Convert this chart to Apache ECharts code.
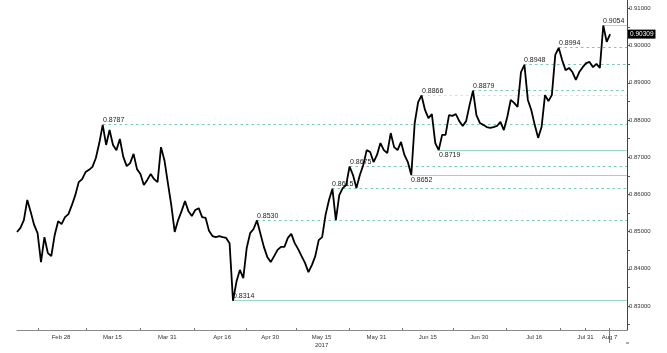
<!DOCTYPE html>
<html>
<head>
<meta charset="utf-8">
<script src="https://cdn.jsdelivr.net/npm/echarts@6/dist/echarts.min.js"></script>
<style>
html,body{margin:0;padding:0;background:#fff;}
#chart{width:667px;height:353px;}
</style>
</head>
<body>
<div id="chart"></div>
<script>
// ---- DATA ----
// first observation date and daily readings (EUR/GBP 2017)
var firstDate = [2017, 2, 15, 4]; // year, month(1-12), day, hour
var prices = [
0.8499,0.8510,0.8531,0.8585,0.8553,0.8518,0.8496,0.8418,0.8485,0.8442,
0.8434,0.8491,0.8528,0.8520,0.8539,0.8547,0.8571,0.8598,0.8633,0.8641,
0.8660,0.8666,0.8674,0.8698,0.8738,0.8787,0.8733,0.8773,0.8733,0.8719,
0.8749,0.8701,0.8676,0.8684,0.8709,0.8668,0.8655,0.8625,0.8639,0.8655,
0.8641,0.8633,0.8727,0.8692,0.8631,0.8571,0.8499,0.8531,0.8555,0.8582,
0.8555,0.8542,0.8558,0.8563,0.8539,0.8537,0.8502,0.8488,0.8485,0.8488,
0.8485,0.8483,0.8469,0.8314,0.8365,0.8397,0.8375,0.8456,0.8496,0.8507,
0.8530,0.8494,0.8459,0.8432,0.8418,0.8434,0.8451,0.8459,0.8459,0.8483,
0.8494,0.8469,0.8453,0.8434,0.8416,0.8391,0.8410,0.8434,0.8477,0.8485,
0.8545,0.8585,0.8615,0.8531,0.8598,0.8617,0.8625,0.8675,0.8652,0.8617,
0.8652,0.8679,0.8719,0.8714,0.8687,0.8706,0.8738,0.8719,0.8711,0.8765,
0.8727,0.8719,0.8741,0.8706,0.8687,0.8652,0.8792,0.8848,0.8866,0.8827,
0.8805,0.8816,0.8738,0.8719,0.8760,0.8760,0.8813,0.8811,0.8816,0.8797,
0.8784,0.8797,0.8840,0.8879,0.8813,0.8792,0.8787,0.8781,0.8779,0.8781,
0.8784,0.8795,0.8773,0.8808,0.8854,0.8846,0.8835,0.8929,0.8948,0.8854,
0.8827,0.8787,0.8752,0.8781,0.8867,0.8851,0.8867,0.8975,0.8994,0.8961,
0.8934,0.8940,0.8929,0.8908,0.8929,0.8942,0.8953,0.8956,0.8942,0.8951,
0.8940,0.9054,0.9010,0.90309
];
var lastPrice = 0.90309;

// x-axis tick labels and their dates
var xLabelDates = ['2017-02-28','2017-03-15','2017-03-31','2017-04-16','2017-04-30','2017-05-15',
                   '2017-05-31','2017-06-15','2017-06-30','2017-07-16','2017-07-31','2017-08-07'];
var xLabelTexts = ['Feb 28','Mar 15','Mar 31','Apr 16','Apr 30','May 15\n2017',
                   'May 31','Jun 15','Jun 30','Jul 16','Jul 31','Aug 7'];
var xTickDates  = ['2017-02-21 12','2017-03-07 12','2017-03-23 00','2017-04-08 00','2017-04-23 00',
                   '2017-05-07 12','2017-05-23 00','2017-06-07 12','2017-06-22 12','2017-07-08 00',
                   '2017-07-23 12','2017-07-31 00','2017-08-07 00'];
var xAxisRange = ['2017-02-15 04','2017-08-12 02'];

// y-axis labels / ticks
var yLabelValues = [0.83,0.84,0.85,0.86,0.87,0.88,0.89,0.90,0.91];
var yTickValues  = [0.825,0.83,0.835,0.84,0.845,0.85,0.855,0.86,0.865,0.87,0.875,0.88,0.885,0.89,0.895,0.90,0.905,0.91];
var yRange = [0.82355, 0.91226];

// annotated support / resistance levels
var levelValues   = [0.8787,0.8530,0.8314,0.8615,0.8675,0.8652,0.8866,0.8719,0.8879,0.8948,0.8994,0.9054];
var levelStartIdx = [25,    70,    63,    92,    97,    115,   118,   123,   133,   148,   158,   171];
var levelKind     = ['high','high','low','high','high','low','faint','low','high','high','high','peak'];
var levelLabelBelow=[false, false, false, false, false, true,  false, true,  false, false, false, false];

// ---- BUILD ----
function parseD(s){
  var p = s.split(/[- ]/);
  return new Date(+p[0], +p[1]-1, +p[2], p[3] ? +p[3] : 0, 0, 0).getTime();
}
var DAY = 86400000;
var t0 = new Date(firstDate[0], firstDate[1]-1, firstDate[2], firstDate[3], 0, 0).getTime();
var times = prices.map(function(_, i){ return t0 + i*DAY; });
var seriesData = prices.map(function(v, i){ return [times[i], v]; });
var labelTimes = xLabelDates.map(parseD);
var labelMap = {};
labelTimes.forEach(function(t, i){ labelMap[t] = xLabelTexts[i]; });
var xMin = parseD(xAxisRange[0]), xMax = parseD(xAxisRange[1]);
var levelData = levelValues.map(function(v, k){ return [times[levelStartIdx[k]], v, k]; });

var FONT = 'Liberation Sans';
var styles = {
  high:  {color:'#74cbb0', dash:[2.5,3]},
  peak:  {color:'#a6dccd', dash:null},
  low:   {color:'#9ad8c6', dash:null},
  faint: {color:'#d9e1df', dash:[2.5,3]}
};

function renderLevel(params, api){
  var k = api.value(2);
  var v = api.value(1);
  var p = api.coord([api.value(0), v]);
  var cs = params.coordSys;
  var xEnd = cs.x + cs.width;
  var y = Math.round(p[1] - 0.5) + 0.5;  // crisp 1px line
  var st = styles[levelKind[k]];
  var below = levelLabelBelow[k];
  return {
    type:'group',
    children:[
      {type:'line', shape:{x1:Math.round(p[0]), y1:y, x2:xEnd, y2:y},
       style:{stroke:st.color, lineWidth:1, lineDash:st.dash}},
      {type:'text', x:Math.round(p[0]), y: below ? y + 1 : y - 1,
       style:{text: v.toFixed(4), fill:'#222', font:'7px ' + FONT,
              align:'left', verticalAlign: below ? 'top' : 'bottom'}}
    ]
  };
}

var chart = echarts.init(document.getElementById('chart'), null, {renderer:'canvas'});
chart.setOption({
  animation:false,
  backgroundColor:'#fff',
  grid:{left:17, right:40, top:0, bottom:23, containLabel:false},
  xAxis:{
    type:'value', min:xMin, max:xMax, scale:true,
    axisLine:{show:true, onZero:false, lineStyle:{color:'#8a8a8a', width:1}},
    axisTick:{show:true, inside:true, length:2, lineStyle:{color:'#777'},
              customValues: xTickDates.map(parseD)},
    axisLabel:{show:true, customValues: labelTimes, margin:3,
               formatter:function(v){ return labelMap[v] || ''; },
               color:'#333', fontSize:6, fontFamily:FONT, lineHeight:8, hideOverlap:false},
    splitLine:{show:false}, minorTick:{show:false}
  },
  yAxis:{
    type:'value', position:'right', min:yRange[0], max:yRange[1], scale:true,
    axisLine:{show:true, onZero:false, lineStyle:{color:'#444', width:1}},
    axisTick:{show:true, inside:false, length:3, lineStyle:{color:'#555'},
              customValues: yTickValues},
    axisLabel:{show:true, customValues: yLabelValues, margin:2,
               formatter:function(v){ return v.toFixed(5); },
               color:'#333', fontSize:6, fontFamily:FONT},
    splitLine:{show:false}
  },
  series:[{
    type:'custom', data:levelData, renderItem:renderLevel, clip:false, z:2, silent:true,
    encode:{x:0, y:1}
  },{
    type:'line', data:seriesData, showSymbol:false, symbol:'none',
    lineStyle:{color:'#000', width:1.8}, z:5,
    markLine:{silent:true, symbol:['none','none'], precision:5, animation:false,
      data:[{
        yAxis: lastPrice,
        lineStyle:{color:'rgba(0,0,0,0)', width:0},
        label:{show:true, position:'end', distance:1, formatter: lastPrice.toFixed(5),
               backgroundColor:'#000', color:'#fff', fontSize:6.5, fontFamily:FONT, padding:[1,2,1,2]}
      }]}
  }]
});

// current-date marker tick under the x axis
var px = chart.convertToPixel({xAxisIndex:0}, parseD(xLabelDates[xLabelDates.length-1]));
var plotBottom = 353 - 23;
chart.setOption({
  graphic:[
    {type:'line', shape:{x1:px, y1:plotBottom, x2:px, y2:plotBottom+13}, style:{stroke:'#777', lineWidth:1}},
    {type:'line', shape:{x1:626, y1:plotBottom+13, x2:629, y2:plotBottom+13}, style:{stroke:'#555', lineWidth:1}}
  ]
});
</script>
</body>
</html>
